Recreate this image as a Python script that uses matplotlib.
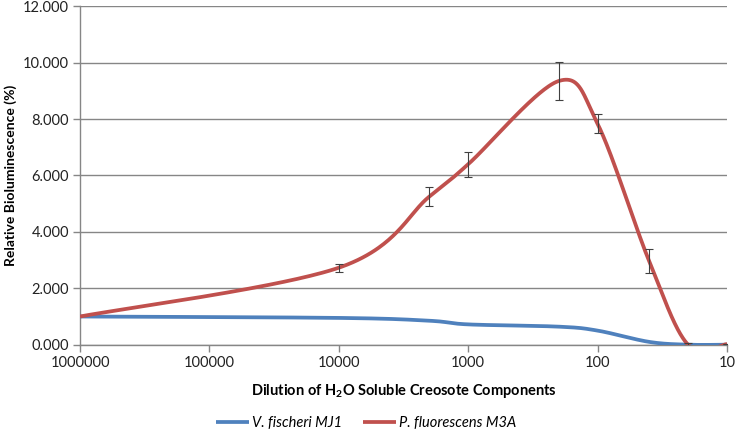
import numpy as np
import matplotlib
matplotlib.use("Agg")
import matplotlib.pyplot as plt
from matplotlib.ticker import FixedLocator, FuncFormatter

matplotlib.rcParams["font.family"] = "Lato"
matplotlib.rcParams["mathtext.fontset"] = "custom"
matplotlib.rcParams["mathtext.rm"] = "Lato"
matplotlib.rcParams["mathtext.bf"] = "Lato:bold"

# dilution levels (x)
dilution = [1000000, 10000, 2000, 1000, 200, 100, 40, 20, 10]
fischeri = [1.0, 0.95, 0.85, 0.72, 0.64, 0.50, 0.10, 0.0, 0.0]
fluorescens = [1.0, 2.73, 5.25, 6.40, 9.35, 7.83, 2.97, 0.0, 0.02]
fluorescens_err = [0.0, 0.14, 0.33, 0.45, 0.66, 0.34, 0.41, 0.05, 0.0]

x_ticks = [1000000, 100000, 10000, 1000, 100, 10]
y_ticks = [0, 2, 4, 6, 8, 10, 12]

BLUE = "#4F81BD"
RED = "#C0504D"
GREY = "#868686"


def excel_smooth(xs, ys, n=60):
    # Excel-style smoothed line: cubic bezier through points, in log-x space
    pts = np.column_stack([np.log10(xs), np.asarray(ys, dtype=float)])
    segs = []
    for i in range(len(pts) - 1):
        p0 = pts[max(i - 1, 0)]
        p1 = pts[i]
        p2 = pts[i + 1]
        p3 = pts[min(i + 2, len(pts) - 1)]
        c1 = p1 + (p2 - p0) / 6
        c2 = p2 - (p3 - p1) / 6
        t = np.linspace(0, 1, n)[:, None]
        seg = (1 - t) ** 3 * p1 + 3 * (1 - t) ** 2 * t * c1 + 3 * (1 - t) * t ** 2 * c2 + t ** 3 * p2
        segs.append(seg)
    curve = np.vstack(segs)
    return 10 ** curve[:, 0], curve[:, 1]


fig = plt.figure(figsize=(7.35, 4.41), dpi=100)
ax = fig.add_axes([80 / 735, 1 - 344.7 / 441, 647 / 735, 338.4 / 441])

bx, by = excel_smooth(dilution, fischeri)
rx, ry = excel_smooth(dilution, fluorescens)
ax.plot(bx, by, color=BLUE, linewidth=2.7, label="V. fischeri MJ1", zorder=3,
        solid_capstyle="butt")
ax.plot(rx, ry, color=RED, linewidth=2.7, label="P. fluorescens M3A", zorder=4,
        solid_capstyle="butt")
ax.errorbar(dilution[1:], fluorescens[1:], yerr=fluorescens_err[1:], fmt="none",
            ecolor="#404040", elinewidth=0.8, capsize=3, capthick=0.8, zorder=5)

ax.set_xscale("log")
ax.set_xlim(1000000, 10)
ax.set_ylim(0, 12)
ax.xaxis.set_major_locator(FixedLocator(x_ticks))
ax.xaxis.set_minor_locator(FixedLocator([]))
ax.xaxis.set_major_formatter(FuncFormatter(lambda v, p: f"{int(round(v))}"))
ax.yaxis.set_major_locator(FixedLocator(y_ticks))
ax.yaxis.set_major_formatter(FuncFormatter(lambda v, p: f"{v:.3f}"))

ax.grid(True, axis="y", color=GREY, linewidth=1)
ax.set_axisbelow(True)
for s in ["top", "right"]:
    ax.spines[s].set_visible(False)
for s in ["left", "bottom"]:
    ax.spines[s].set_color(GREY)
    ax.spines[s].set_linewidth(1)
ax.tick_params(axis="both", which="major", direction="out", length=5, width=1,
               color=GREY, labelsize=10.5, labelcolor="#222222", pad=3)

ax.set_xlabel(r"Dilution of H$_\mathbf{2}$O Soluble Creosote Components",
              fontsize=10.5, fontweight="bold", labelpad=9)
ax.set_ylabel("Relative Bioluminescence (%)", fontsize=10, fontweight="bold",
              labelpad=4)

leg = fig.legend(loc="lower center", bbox_to_anchor=(0.498, -0.005), ncol=2,
                 frameon=False, handlelength=2.3, handletextpad=0.2,
                 columnspacing=1.4, prop={"style": "italic", "size": 10.5})

fig.savefig("out.png", dpi=100)
